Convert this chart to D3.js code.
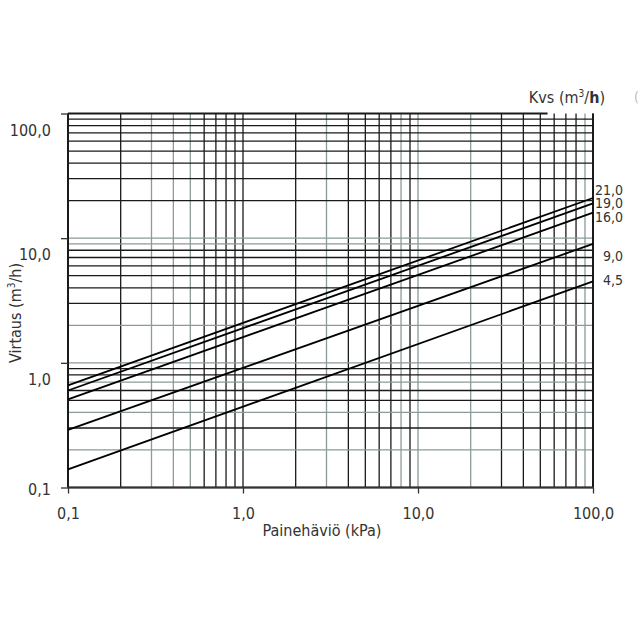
<!DOCTYPE html>
<html>
<head>
<meta charset="utf-8">
<script src="https://cdn.jsdelivr.net/npm/d3@7"></script>
<style>
  body { margin: 0; background: #fff; }
  svg text { font-family: "DejaVu Sans Condensed", "DejaVu Sans", sans-serif; fill: #333; }
</style>
</head>
<body>
<script>
// Kvs curves: flow at 0.1 kPa and at 100 kPa (= Kvs)
let kvsLabels = ["21,0", "19,0", "16,0", "9,0", "4,5"];
let kvsValues = [21, 19, 16, 9, 4.5];
let flowAtMin = [0.66, 0.60, 0.51, 0.29, 0.14];
let pressureEnds = [0.1, 100];

let majorTicks = [0.1, 1, 10, 100];
let grayX = [0.3, 0.4, 0.5, 3, 8, 10, 20, 90];
let grayY = [0.2, 0.4, 0.7, 1, 2, 9, 10];

let width = 640, height = 640;

let svg = d3.select("body")
            .append("svg")
            .attr("width", width)
            .attr("height", height);

let x = d3.scaleLog().domain([0.1, 100]).range([68, 593]);
let y = d3.scaleLog().domain([0.1, 100]).range([487.5, 113.5]);

const fmt = v => d3.format(".1f")(v).replace(".", ",");
const dark = "#1a1a1a", gray = "#8c9a9a";

// grid
let grid = svg.append("g");
grid.selectAll(".vx")
    .data(x.ticks())
    .enter().append("line")
    .attr("x1", d => x(d)).attr("x2", d => x(d))
    .attr("y1", y(100)).attr("y2", y(0.1))
    .attr("stroke", d => grayX.some(g => Math.abs(g - d) < 1e-9) ? gray : dark)
    .attr("stroke-width", 1.3);

grid.selectAll(".hy")
    .data(y.ticks().filter(d => d < 100))
    .enter().append("line")
    .attr("x1", x(0.1)).attr("x2", x(100))
    .attr("y1", d => y(d)).attr("y2", d => y(d))
    .attr("stroke", d => grayY.some(g => Math.abs(g - d) < 1e-9) ? gray : dark)
    .attr("stroke-width", 1.3);

// frame (top edge stops short, as in the original)
grid.append("line")
    .attr("x1", x(0.1)).attr("x2", x(55))
    .attr("y1", y(100)).attr("y2", y(100))
    .attr("stroke", dark).attr("stroke-width", 2);
grid.append("line")
    .attr("x1", x(0.1)).attr("x2", x(0.1))
    .attr("y1", y(100)).attr("y2", y(0.1))
    .attr("stroke", dark).attr("stroke-width", 2);
grid.append("line")
    .attr("x1", x(100)).attr("x2", x(100))
    .attr("y1", y(100)).attr("y2", y(0.1))
    .attr("stroke", dark).attr("stroke-width", 2);
grid.append("line")
    .attr("x1", x(0.1)).attr("x2", x(100))
    .attr("y1", y(0.1)).attr("y2", y(0.1))
    .attr("stroke", "#333").attr("stroke-width", 2);

// axes
const yAxis = d3.axisLeft(y).tickValues(majorTicks).tickSize(7).tickPadding(10).tickFormat(fmt);
let ya = svg.append("g")
    .attr("transform", `translate(${x(0.1)}, 0)`)
    .call(yAxis);
ya.select(".domain").remove();
ya.selectAll(".tick line").attr("stroke", "#333").attr("stroke-width", 1.3);
ya.selectAll(".tick text")
    .attr("dy", d => d === 0.1 ? "0.45em" : "1.35em")
    .style("font-size", "16px");

const xAxis = d3.axisBottom(x).tickValues(majorTicks).tickSize(6).tickPadding(14).tickFormat(fmt);
let xa = svg.append("g")
    .attr("transform", `translate(0, ${y(0.1)})`)
    .call(xAxis);
xa.select(".domain").remove();
xa.selectAll(".tick line").attr("stroke", "#333").attr("stroke-width", 1.3);
xa.selectAll(".tick text").style("font-size", "16px");

// Kvs lines
let line = d3.line().x(d => x(d[0])).y(d => y(d[1]));
kvsValues.forEach((k, i) => {
    svg.append("path")
        .datum([[pressureEnds[0], flowAtMin[i]], [pressureEnds[1], k]])
        .attr("d", line)
        .attr("fill", "none")
        .attr("stroke", "#000")
        .attr("stroke-width", 1.8);
});

// Kvs labels at the right end
let labelDy = [-3, 4.5, 9, 17.5, 3.5];
svg.selectAll(".kvs")
    .data(kvsValues)
    .enter().append("text")
    .attr("x", 623)
    .attr("y", (d, i) => y(d) + labelDy[i])
    .attr("text-anchor", "end")
    .style("font-size", "14px")
    .text((d, i) => kvsLabels[i]);

// titles
svg.append("text")
    .attr("x", 605).attr("y", 103)
    .attr("text-anchor", "end")
    .style("font-size", "16px")
    .html('Kvs (m<tspan font-size="10" dy="-6">3</tspan><tspan dy="6">/</tspan><tspan font-weight="bold">h</tspan>)');

svg.append("text")
    .attr("x", 634).attr("y", 102)
    .style("font-size", "14px")
    .style("fill", "#bbb")
    .text("(");

svg.append("text")
    .attr("transform", "translate(21, 313) rotate(-90)")
    .attr("text-anchor", "middle")
    .style("font-size", "16px")
    .html('Virtaus (m<tspan font-size="10" dy="-6">3</tspan><tspan dy="6">/h)</tspan>');

svg.append("text")
    .attr("x", 322).attr("y", 536)
    .attr("text-anchor", "middle")
    .style("font-size", "16px")
    .text("Painehäviö (kPa)");
</script>
</body>
</html>
